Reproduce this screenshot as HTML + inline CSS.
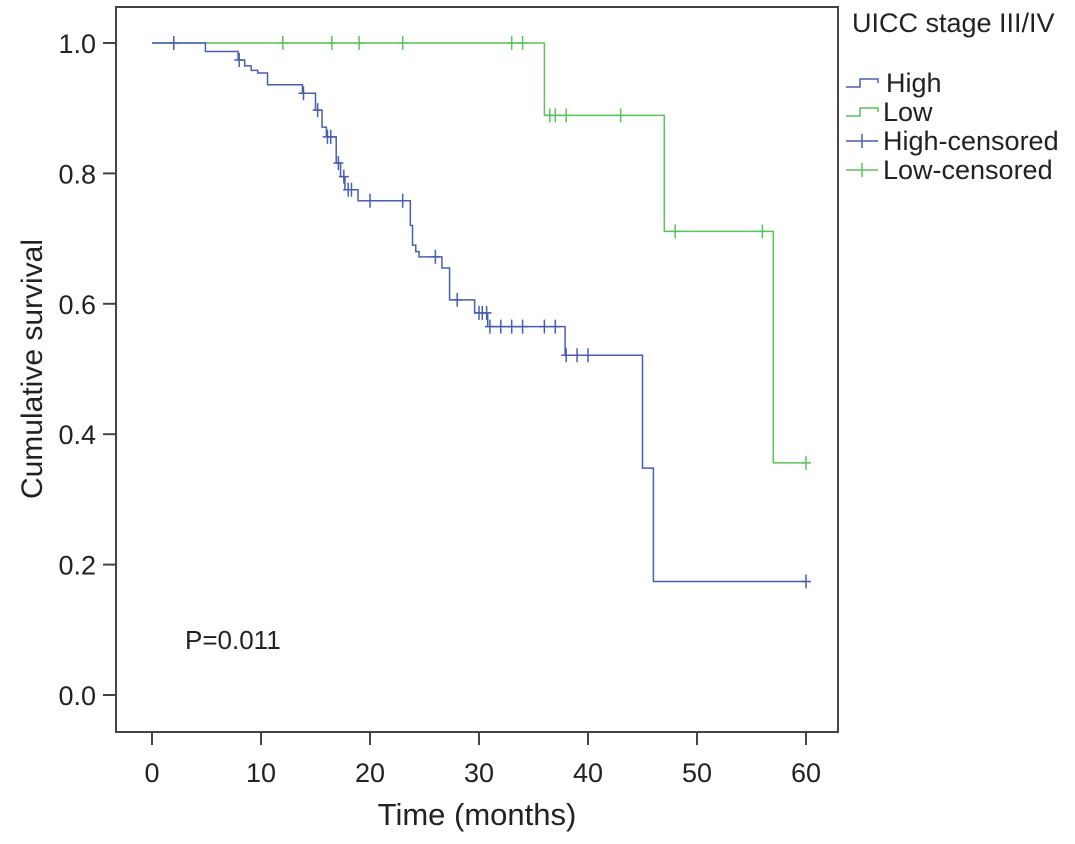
<!DOCTYPE html>
<html><head><meta charset="utf-8"><style>
body{margin:0;background:#fff;}
svg text{font-family:"Liberation Sans",Arial,sans-serif;fill:#222;}
</style></head><body>
<svg width="1075" height="839">
<g id="plot"></g>
</svg>
<script>
const highTimes=[0,4.9,7.9,8.5,9.1,9.7,10.6,13.8,15.0,15.6,16.0,16.9,17.3,17.7,18.9,23.7,23.9,24.2,24.5,26.6,27.3,29.6,30.8,37.9,45.0,46.0];
const highSurv=[1.0,0.987,0.974,0.965,0.958,0.954,0.936,0.923,0.897,0.871,0.856,0.816,0.795,0.775,0.758,0.72,0.69,0.68,0.672,0.655,0.606,0.586,0.565,0.521,0.348,0.174];
const highCens=[2,8,13.9,15.2,16.1,16.4,17.1,17.6,18,18.3,20,23,26,28,30,30.3,30.7,31,32,33,34,36,37,38,39,40,60];
const lowTimes=[0,36,47,57];
const lowSurv=[1.0,0.889,0.711,0.356];
const lowCens=[2,12,16.5,19,23,33,34,36.5,37,38,43,48,56,60];
const xTicks=[0,10,20,30,40,50,60];
const yTicks=[0.0,0.2,0.4,0.6,0.8,1.0];
const NS='http://www.w3.org/2000/svg';
const X=t=>152+t*10.9, Y=s=>695-s*652;
const g=document.getElementById('plot');
function el(tag,a,txt){const e=document.createElementNS(NS,tag);for(const k in a)e.setAttribute(k,a[k]);if(txt!=null)e.textContent=txt;g.appendChild(e);return e;}
let e=el('rect',{x:116,y:7,width:722,height:725,fill:'none',stroke:'#444','stroke-width':2});


yTicks.forEach(v=>{
 let t=el('line',{x1:103,x2:116,y1:Y(v),y2:Y(v),stroke:'#444','stroke-width':2});
 
 
 let l=el('text',{x:96,y:Y(v)+10,'text-anchor':'end','font-size':27},v.toFixed(1));
 
 
});
xTicks.forEach(v=>{
 let t=el('line',{x1:X(v),x2:X(v),y1:732,y2:745,stroke:'#444','stroke-width':2});
 
 
 let l=el('text',{x:X(v),y:782,'text-anchor':'middle','font-size':27},String(v));
 
 
});
function survAt(times,surv,t){let s=surv[0];for(let i=0;i<times.length;i++)if(times[i]<=t)s=surv[i];return s;}
function curve(times,surv,end,color,name){
 let d='M'+X(times[0])+','+Y(surv[0]);
 for(let i=1;i<times.length;i++){d+=' H'+X(times[i])+' V'+Y(surv[i]);}
 d+=' H'+X(end);
 let p=el('path',{d:d,fill:'none',stroke:color,'stroke-width':1.5});
 
 
}
function cens(times,surv,list,color,name){
 list.forEach(t=>{const x=X(t),y=Y(survAt(times,surv,t));
  let p=el('path',{d:`M${x-5},${y}H${x+5}M${x},${y-7}V${y+7}`,stroke:color,'stroke-width':1.5});
  
  
 });
}
curve(lowTimes,lowSurv,60,'#5cc25c','low-survival-curve');
curve(highTimes,highSurv,60,'#4a5eb0','high-survival-curve');
cens(lowTimes,lowSurv,lowCens,'#5cc25c','low-censored-mark');
cens(highTimes,highSurv,highCens,'#4a5eb0','high-censored-mark');
let a=el('text',{x:0,y:0,'font-size':30,'text-anchor':'middle',transform:'translate(42,369) rotate(-90)'},'Cumulative survival');


a=el('text',{x:477,y:825,'font-size':31,'text-anchor':'middle'},'Time (months)');


a=el('text',{x:185,y:649,'font-size':26},'P=0.011');


a=el('text',{x:852,y:32,'font-size':27},'UICC stage III/IV');


const leg=[['High','#4a5eb0','step'],['Low','#5cc25c','step'],['High-censored','#4a5eb0','plus'],['Low-censored','#5cc25c','plus']];
const legY=[92,121,150,179];
leg.forEach((L,i)=>{const y=legY[i]-9;
 let d=L[2]=='step'?`M846,${y+4}H860V${y-4}H878V${y}`:`M846,${y}H878M862,${y-7}V${y+7}`;
 let p=el('path',{d:d,fill:'none',stroke:L[1],'stroke-width':1.5});
 
 
 let t=el('text',{x:i==0?886:883,y:legY[i],'font-size':27},L[0]);
 
 
});
</script>
</body></html>
